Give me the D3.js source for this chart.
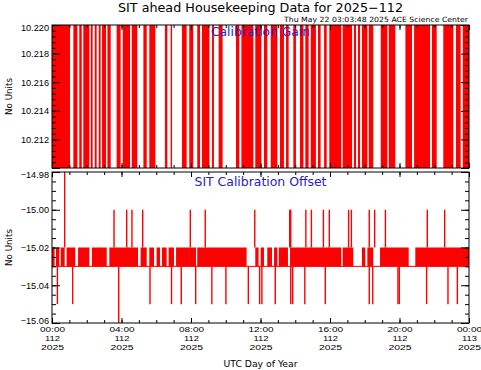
<!DOCTYPE html>
<html>
<head>
<meta charset="utf-8">
<script src="https://cdn.jsdelivr.net/npm/d3@7"></script>
<style>
  body { margin: 0; background: #fff; }
  svg { display: block; font-family: "DejaVu Sans", Verdana, sans-serif; }
</style>
</head>
<body>
<div id="chart"></div>
<script>

// x axis (hours of day 112)
const xTickHours = [0, 4, 8, 12, 16, 20, 24];
const xTickTimes = ["00:00", "04:00", "08:00", "12:00", "16:00", "20:00", "00:00"];
const xTickDays  = ["112", "112", "112", "112", "112", "112", "113"];
const xTickYears = ["2025", "2025", "2025", "2025", "2025", "2025", "2025"];

// Calibration Gain: value flips between the two levels inside each busy band
const gainLevels = [10.2095, 10.2205];
const gainBandStart = [0, 1.23, 1.57, 1.80, 2.23, 2.46, 2.69, 2.88, 3.19, 3.72, 4.07, 4.59, 5.26, 5.60, 6.50, 6.83,
  7.48, 7.90, 8.36, 8.63, 9.21, 9.59, 10.59, 10.90, 11.70, 12.20, 12.59, 13.12, 13.47, 13.89, 14.27, 14.58,
  14.89, 15.31, 15.66, 15.96, 16.73, 17.38, 17.61, 17.84, 18.23, 18.92, 19.38, 20.34, 20.84, 21.87, 22.52, 23.25, 23.64];
const gainBandEnd = [1.04, 1.46, 1.71, 2.15, 2.34, 2.57, 2.80, 3.11, 3.38, 3.95, 4.49, 4.91, 5.45, 5.95, 6.64, 6.91,
  7.75, 8.13, 8.52, 9.06, 9.32, 9.82, 10.78, 11.59, 12.05, 12.39, 12.97, 13.35, 13.62, 14.04, 14.47, 14.77,
  15.19, 15.46, 15.81, 16.65, 17.27, 17.50, 17.73, 18.15, 18.49, 19.30, 19.76, 20.72, 21.76, 22.14, 23.10, 23.52, 24.0];

// SIT Calibration Offset: flips between -15.02 and -15.03, plus single-sample spikes
const offsetLevels = [-15.03, -15.02];
const offsetBandStart = [0, 0.23, 0.50, 0.84, 1.50, 2.30, 3.30, 5.10, 5.60, 6.02, 6.33, 6.71, 7.14,
  7.94, 8.36, 11.70, 12.01, 12.39, 12.78, 13.05, 13.70, 16.73, 17.84, 18.15, 18.88, 20.91];
const offsetBandEnd = [0.15, 0.42, 0.73, 1.34, 2.15, 3.15, 4.95, 5.45, 5.87, 6.22, 6.60, 7.02, 7.94,
  8.29, 11.20, 11.89, 12.20, 12.66, 12.97, 13.58, 16.65, 17.34, 18.03, 18.49, 20.53, 24.0];
const offsetSpikeHours = [0.73, 3.57, 4.30, 4.60, 5.22, 7.96, 8.82, 11.67, 13.68, 13.74, 14.61, 14.93, 15.62, 15.96,
  17.07, 17.23, 18.26, 18.57, 19.19, 21.60, 22.60,
  0.31, 1.19, 3.84, 5.64, 6.88, 7.44, 8.27, 9.20, 10.01, 11.30, 11.95, 12.08, 12.85, 13.74, 13.85, 14.55, 15.73,
  18.26, 18.46, 19.91, 19.99, 21.56, 22.79, 23.33];
const offsetSpikeValues = [-14.97, -15.00, -15.00, -15.00, -15.00, -15.00, -15.00, -15.00, -15.00, -15.00, -15.00, -15.00, -15.00, -15.00,
  -15.00, -15.00, -15.00, -15.00, -15.00, -15.00, -15.00,
  -15.05, -15.05, -15.06, -15.05, -15.05, -15.05, -15.05, -15.05, -15.05, -15.05, -15.05, -15.05, -15.05, -15.05, -15.05, -15.05, -15.05,
  -15.05, -15.05, -15.05, -15.05, -15.05, -15.05, -15.05];

const width = 481, height = 370;
const left = 52, right = 469;
const red = "#ff0000", blue = "#2323c8";

const svg = d3.select("#chart").append("svg")
    .attr("width", width)
    .attr("height", height);

const x = d3.scaleLinear().domain([0, 24]).range([left, right]);

const panels = [
    {id: "gain", top: 25, bottom: 168, domain: [10.210, 10.220], majors: [10.210, 10.212, 10.214, 10.216, 10.218, 10.220],
     minorStep: 0.0004, fmt: d3.format(".3f"), label: "Calibration Gain", labelY: 36, labelW: 99},
    {id: "offset", top: 172, bottom: 323, domain: [-15.06, -14.98], majors: [-15.06, -15.04, -15.02, -15.00, -14.98],
     minorStep: 0.005, fmt: d3.format(".2f"), label: "SIT Calibration Offset", labelY: 186, labelW: 132}
];

panels.forEach(p => {
    p.y = d3.scaleLinear().domain(p.domain).range([p.bottom, p.top]);

    svg.append("clipPath").attr("id", "clip-" + p.id)
        .append("rect")
        .attr("x", left).attr("y", p.top)
        .attr("width", right - left).attr("height", p.bottom - p.top);
});

// ----- gain panel data
const pg = panels[0];
svg.append("g").attr("clip-path", "url(#clip-gain)")
    .selectAll("rect")
    .data(gainBandStart)
    .join("rect")
    .attr("x", (d, i) => x(d))
    .attr("width", (d, i) => Math.max(1, x(gainBandEnd[i]) - x(d)))
    .attr("y", pg.y(gainLevels[1]))
    .attr("height", pg.y(gainLevels[0]) - pg.y(gainLevels[1]))
    .attr("fill", red);

// ----- offset panel data
const po = panels[1];
const og = svg.append("g").attr("clip-path", "url(#clip-offset)");

og.append("line")
    .attr("x1", x(0)).attr("x2", x(24))
    .attr("y1", po.y(offsetLevels[0])).attr("y2", po.y(offsetLevels[0]))
    .attr("stroke", red).attr("stroke-width", 1);

og.selectAll("rect")
    .data(offsetBandStart)
    .join("rect")
    .attr("x", d => x(d))
    .attr("width", (d, i) => Math.max(1, x(offsetBandEnd[i]) - x(d)))
    .attr("y", po.y(offsetLevels[1]))
    .attr("height", po.y(offsetLevels[0]) - po.y(offsetLevels[1]))
    .attr("fill", red);

og.selectAll("line.spike")
    .data(offsetSpikeHours)
    .join("line")
    .attr("class", "spike")
    .attr("x1", d => x(d)).attr("x2", d => x(d))
    .attr("y1", (d, i) => offsetSpikeValues[i] > offsetLevels[1] ? po.y(offsetLevels[1]) : po.y(offsetLevels[0]))
    .attr("y2", (d, i) => po.y(offsetSpikeValues[i]))
    .attr("stroke", red)
    .attr("stroke-width", 1.4);

// ----- axes, frames, labels
const hourMinor = d3.range(0, 25, 1);

panels.forEach(p => {
    const minors = d3.range(p.domain[0], p.domain[1] + p.minorStep / 2, p.minorStep);

    // left: majors with labels, ticks pointing inward
    const yLeft = svg.append("g")
        .attr("transform", `translate(${left},0)`)
        .call(d3.axisLeft(p.y).tickValues(p.majors)
            .tickFormat((d, i) => (p.id === "gain" && i === 0) ? "" : p.fmt(d))
            .tickSizeInner(-8).tickSizeOuter(0).tickPadding(3));
    yLeft.selectAll("text").attr("font-size", 9.2).attr("fill", "#000");
    // end labels are kept inside the panel's height, as IDL does
    const last = p.majors.length - 1;
    yLeft.selectAll("text").attr("y", (d, i) => i === last ? 2.5 : (i === 0 ? -2.5 : 0));

    svg.append("g")
        .attr("transform", `translate(${left},0)`)
        .call(d3.axisLeft(p.y).tickValues(minors).tickFormat("").tickSizeInner(-4).tickSizeOuter(0));

    svg.append("g")
        .attr("transform", `translate(${right},0)`)
        .call(d3.axisRight(p.y).tickValues(p.majors).tickFormat("").tickSizeInner(-8).tickSizeOuter(0));
    svg.append("g")
        .attr("transform", `translate(${right},0)`)
        .call(d3.axisRight(p.y).tickValues(minors).tickFormat("").tickSizeInner(-4).tickSizeOuter(0));

    // top / bottom hour ticks
    [[p.top, d3.axisTop], [p.bottom, d3.axisBottom]].forEach(([yy, ax]) => {
        svg.append("g")
            .attr("transform", `translate(0,${yy})`)
            .call(ax(x).tickValues(xTickHours).tickFormat("").tickSizeInner(-5).tickSizeOuter(0));
        svg.append("g")
            .attr("transform", `translate(0,${yy})`)
            .call(ax(x).tickValues(hourMinor).tickFormat("").tickSizeInner(-3).tickSizeOuter(0));
    });

    svg.append("rect")
        .attr("x", left).attr("y", p.top)
        .attr("width", right - left).attr("height", p.bottom - p.top)
        .attr("fill", "none").attr("stroke", "#000").attr("stroke-width", 1);

    svg.append("text")
        .attr("x", (left + right) / 2).attr("y", p.labelY)
        .attr("text-anchor", "middle")
        .attr("font-size", 11.5)
        .attr("textLength", p.labelW).attr("lengthAdjust", "spacingAndGlyphs")
        .attr("fill", blue)
        .text(p.label);

    svg.append("text")
        .attr("transform", `translate(12,${(p.top + p.bottom) / 2}) rotate(-90)`)
        .attr("text-anchor", "middle")
        .attr("font-size", 9.5)
        .attr("textLength", 37).attr("lengthAdjust", "spacingAndGlyphs")
        .text("No Units");
});

svg.selectAll(".domain").remove();
svg.selectAll(".tick line").attr("stroke", "#000");

// x tick labels under the bottom panel (three lines each)
const xLab = svg.append("g")
    .attr("transform", `translate(0,${po.bottom})`)
    .call(d3.axisBottom(x).tickValues(xTickHours).tickFormat("").tickSize(0));
xLab.select(".domain").remove();
xLab.selectAll(".tick").each(function(d, i) {
    const g = d3.select(this);
    [[xTickTimes[i], 25], [xTickDays[i], 15], [xTickYears[i], 23]].forEach(([s, w], k) => {
        g.append("text")
            .attr("text-anchor", "middle")
            .attr("font-size", 7.7)
            .attr("textLength", w).attr("lengthAdjust", "spacingAndGlyphs")
            .attr("fill", "#000")
            .attr("y", 8.8 + k * 9)
            .text(s);
    });
});

svg.append("text")
    .attr("x", (left + right) / 2).attr("y", 367)
    .attr("text-anchor", "middle")
    .attr("font-size", 9.5)
    .attr("textLength", 74).attr("lengthAdjust", "spacingAndGlyphs")
    .text("UTC Day of Year");

svg.append("text")
    .attr("x", (left + right) / 2).attr("y", 11.5)
    .attr("text-anchor", "middle")
    .attr("font-size", 12.5)
    .attr("textLength", 285).attr("lengthAdjust", "spacingAndGlyphs")
    .text("SIT ahead Housekeeping Data for 2025\u2212112");

svg.append("text")
    .attr("x", right - 1).attr("y", 22)
    .attr("text-anchor", "end")
    .attr("font-size", 7.2)
    .attr("textLength", 184).attr("lengthAdjust", "spacingAndGlyphs")
    .text("Thu May 22 03:03:48 2025 ACE Science Center");

</script>
</body>
</html>
